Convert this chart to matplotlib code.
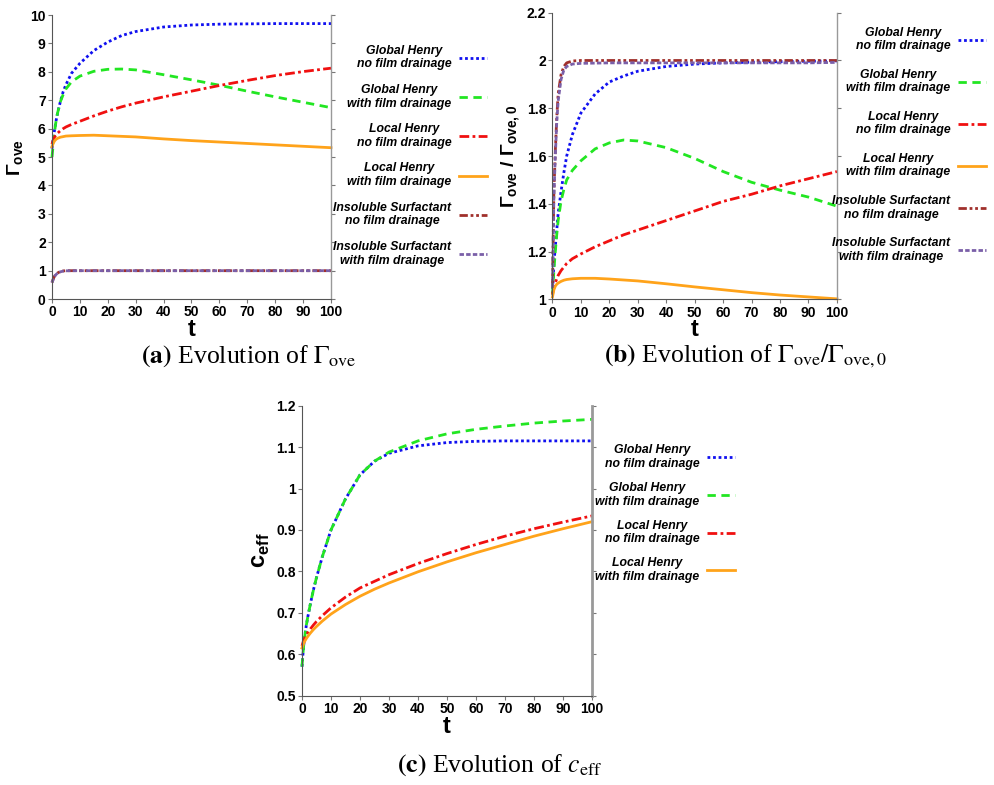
import matplotlib
matplotlib.use("Agg")
import matplotlib.pyplot as plt
from matplotlib.ticker import FuncFormatter, MultipleLocator

plt.rcParams['font.family'] = ['Liberation Sans', 'DejaVu Sans']

# time samples shared by every curve
t = [0, 0.5, 1, 1.5, 2, 3, 4, 5, 7, 10, 15, 20, 25, 30, 40, 50, 60, 70, 80, 90, 100]

# (a) Gamma_ove
gh_no_a = [5.3, 5.7, 6.0, 6.3, 6.55, 6.95, 7.3, 7.55, 7.95, 8.3, 8.75, 9.05, 9.28, 9.42, 9.58, 9.65, 9.68, 9.69, 9.7, 9.7, 9.7]
gh_with_a = [5.0, 5.5, 5.95, 6.3, 6.55, 6.95, 7.2, 7.4, 7.65, 7.85, 8.02, 8.09, 8.1, 8.07, 7.9, 7.72, 7.53, 7.32, 7.12, 6.93, 6.74]
lh_no_a = [5.45, 5.62, 5.72, 5.78, 5.84, 5.93, 6.0, 6.06, 6.15, 6.26, 6.45, 6.62, 6.77, 6.9, 7.12, 7.32, 7.52, 7.7, 7.87, 8.01, 8.13]
lh_with_a = [5.36, 5.5, 5.58, 5.63, 5.66, 5.7, 5.72, 5.74, 5.75, 5.76, 5.77, 5.75, 5.73, 5.71, 5.64, 5.58, 5.53, 5.48, 5.43, 5.38, 5.33]
ins_no_a = [0.58, 0.72, 0.82, 0.88, 0.92, 0.97, 0.99, 1.0, 1.0, 1.0, 1.0, 1.0, 1.0, 1.0, 1.0, 1.0, 1.0, 1.0, 1.0, 1.0, 1.0]
ins_with_a = [0.58, 0.71, 0.81, 0.87, 0.91, 0.96, 0.985, 0.995, 1.0, 1.0, 1.0, 1.0, 1.0, 1.0, 1.0, 1.0, 1.0, 1.0, 1.0, 1.0, 1.0]

# (b) Gamma_ove / Gamma_ove,0
gh_no_b = [1.02, 1.15, 1.22, 1.29, 1.36, 1.45, 1.53, 1.6, 1.69, 1.78, 1.86, 1.91, 1.935, 1.955, 1.975, 1.985, 1.99, 1.993, 1.995, 1.997, 1.998]
gh_with_b = [1.02, 1.12, 1.2, 1.27, 1.33, 1.41, 1.46, 1.5, 1.54, 1.58, 1.63, 1.655, 1.667, 1.663, 1.635, 1.59, 1.535, 1.49, 1.457, 1.428, 1.39]
lh_no_b = [1.02, 1.05, 1.07, 1.085, 1.1, 1.12, 1.135, 1.15, 1.17, 1.19, 1.22, 1.245, 1.27, 1.29, 1.33, 1.37, 1.41, 1.44, 1.475, 1.505, 1.535]
lh_with_b = [1.01, 1.04, 1.055, 1.063, 1.068, 1.075, 1.08, 1.083, 1.086, 1.088, 1.088, 1.085, 1.081, 1.077, 1.065, 1.052, 1.04, 1.028, 1.018, 1.01, 1.002]
ins_no_b = [1.05, 1.45, 1.62, 1.76, 1.86, 1.94, 1.975, 1.99, 1.998, 2.0, 2.0, 2.0, 2.0, 2.0, 2.0, 2.0, 2.0, 2.0, 2.0, 2.0, 2.0]
ins_with_b = [1.05, 1.43, 1.6, 1.74, 1.83, 1.92, 1.96, 1.975, 1.985, 1.988, 1.989, 1.99, 1.99, 1.99, 1.99, 1.99, 1.99, 1.99, 1.99, 1.99, 1.992]

# (c) c_eff
gh_no_c = [0.57, 0.615, 0.645, 0.67, 0.69, 0.725, 0.757, 0.785, 0.835, 0.9, 0.975, 1.033, 1.066, 1.085, 1.103, 1.111, 1.114, 1.115, 1.115, 1.115, 1.115]
gh_with_c = [0.57, 0.615, 0.645, 0.67, 0.69, 0.725, 0.757, 0.785, 0.835, 0.9, 0.975, 1.033, 1.066, 1.088, 1.115, 1.132, 1.143, 1.151, 1.158, 1.163, 1.167]
lh_no_c = [0.62, 0.632, 0.64, 0.646, 0.652, 0.662, 0.671, 0.679, 0.693, 0.712, 0.738, 0.76, 0.776, 0.792, 0.819, 0.843, 0.865, 0.885, 0.903, 0.919, 0.934]
lh_with_c = [0.615, 0.625, 0.632, 0.638, 0.643, 0.652, 0.66, 0.667, 0.68, 0.697, 0.72, 0.74, 0.757, 0.772, 0.799, 0.823, 0.845, 0.865, 0.885, 0.903, 0.92]

labels = ['Global Henry\nno film drainage', 'Global Henry\nwith film drainage',
          'Local Henry\nno film drainage', 'Local Henry\nwith film drainage',
          'Insoluble Surfactant\nno film drainage', 'Insoluble Surfactant\nwith film drainage']

# line looks: colour, dash pattern, width
styles = [('#1010f0', (0, (1, 1)), 2.0),
          ('#22e622', (0, (3, 2)), 2.0),
          ('#f01010', (0, (3.5, 1.2, 1, 1.2)), 2.0),
          ('#ffa31a', '-', 2.0),
          ('#a0302c', (0, (3, 1, 1, 1, 1, 1)), 2.0),
          ('#7a5fa8', (0, (1.6, 0.8)), 2.0)]


def fmt(v, pos):
    return f'{v:g}'


def setup(ax, ymin, ymax, ystep, right_lw=1.0):
    ax.set_xlim(0, 100)
    ax.set_ylim(ymin, ymax)
    ax.xaxis.set_major_locator(MultipleLocator(10))
    ax.yaxis.set_major_locator(MultipleLocator(ystep))
    ax.yaxis.set_major_formatter(FuncFormatter(fmt))
    ax.spines['top'].set_visible(False)
    ax.spines['left'].set_color('#555555')
    ax.spines['bottom'].set_color('#555555')
    ax.spines['right'].set_color('#999999')
    ax.spines['right'].set_linewidth(right_lw)
    ax.tick_params(axis='both', direction='out', length=3, width=0.8, color='#777777',
                   labelsize=10, pad=1.5)
    ax.tick_params(axis='y', right=True)
    for lab in ax.get_xticklabels() + ax.get_yticklabels():
        lab.set_fontweight('bold')
    ax.set_xlabel('t', fontsize=17, fontweight='bold', labelpad=-1)


def legend(ax, handles, x, y, spacing):
    leg = ax.legend(handles=handles, labels=labels[:len(handles)], loc='center right',
                    bbox_to_anchor=(x, y), frameon=False, markerfirst=False,
                    labelspacing=spacing, handlelength=2.3, handletextpad=0.6,
                    borderpad=0, borderaxespad=0,
                    prop=dict(weight='bold', style='italic', size=8.8))
    for txt in leg.get_texts():
        txt.set_multialignment('center')
    return leg


fig = plt.figure(figsize=(9.94, 7.85), dpi=100)

ax_a = fig.add_axes([0.0523, 0.619, 0.2807, 0.3618])
ax_b = fig.add_axes([0.5558, 0.6187, 0.2862, 0.3651])
ax_c = fig.add_axes([0.3038, 0.1138, 0.2918, 0.3694])

series_a = [gh_no_a, gh_with_a, lh_no_a, lh_with_a, ins_no_a, ins_with_a]
series_b = [gh_no_b, gh_with_b, lh_no_b, lh_with_b, ins_no_b, ins_with_b]
series_c = [gh_no_c, gh_with_c, lh_no_c, lh_with_c]

hand_a = [ax_a.plot(t, y, color=c, linestyle=ls, lw=lw, clip_on=False)[0]
          for y, (c, ls, lw) in zip(series_a, styles)]
hand_b = [ax_b.plot(t, y, color=c, linestyle=ls, lw=lw, clip_on=False)[0]
          for y, (c, ls, lw) in zip(series_b, styles)]
hand_c = [ax_c.plot(t, y, color=c, linestyle=ls, lw=lw, clip_on=False)[0]
          for y, (c, ls, lw) in zip(series_c, styles)]

setup(ax_a, 0, 10, 1)
setup(ax_b, 1, 2.2, 0.2)
setup(ax_c, 0.5, 1.2, 0.1, right_lw=2.0)

ax_a.set_ylabel('Γ$_{\\mathregular{ove}}$', fontsize=14, fontweight='bold', labelpad=3)
ax_b.set_ylabel('Γ$_{\\mathregular{ove}}$ / Γ$_{\\mathregular{ove,0}}$', fontsize=14,
                fontweight='bold', labelpad=3)
ax_c.set_ylabel('c$_{\\mathregular{eff}}$', fontsize=17, fontweight='bold', labelpad=3)

legend(ax_a, hand_a, 1.559, 0.505, 1.1)
legend(ax_b, hand_b, 1.524, 0.54, 1.33)
legend(ax_c, hand_c, 1.493, 0.628, 0.98)

cap = dict(ha='center', va='center', fontsize=18.5, family='Liberation Serif',
           math_fontfamily='stix')
fig.text(0.25, 1 - 356 / 785, r'$\mathbf{(a)}$ Evolution of $\Gamma_{\rm ove}$', **cap)
fig.text(0.75, 1 - 356 / 785, r'$\mathbf{(b)}$ Evolution of $\Gamma_{\rm ove}/\Gamma_{\rm ove,0}$', **cap)
fig.text(0.503, 1 - 765 / 785, r'$\mathbf{(c)}$ Evolution of $c_{\rm eff}$', **cap)

fig.savefig('out.png', dpi=100)
